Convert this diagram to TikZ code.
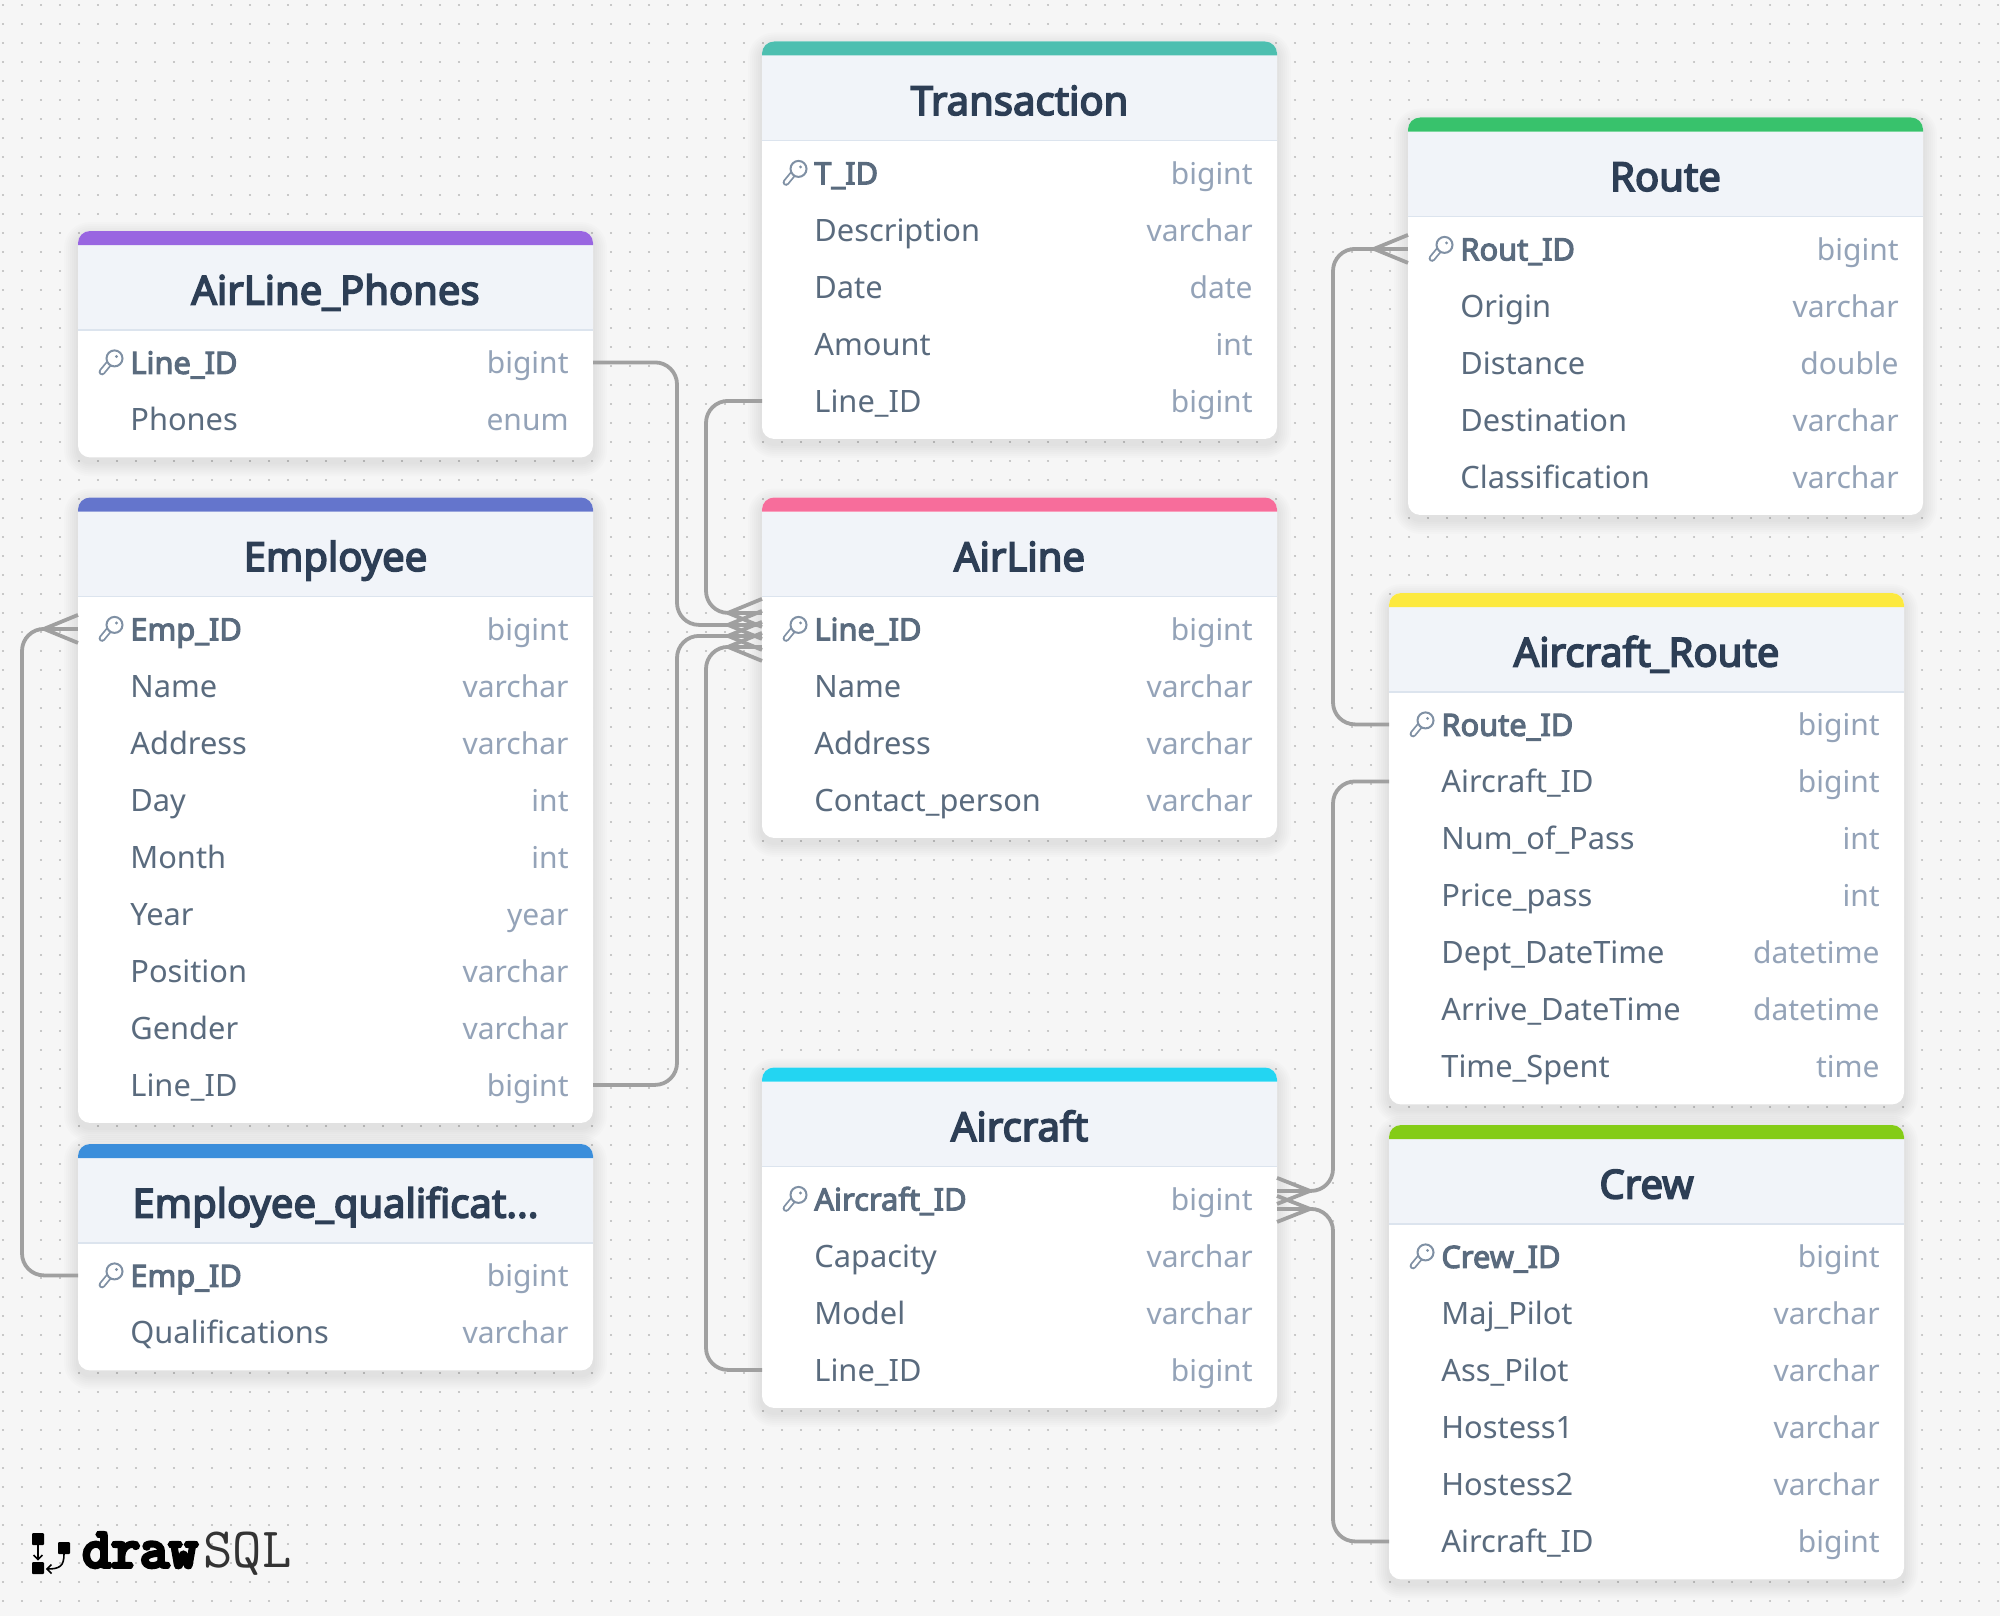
\documentclass[tikz,border=0pt]{standalone}
\usepackage{fontspec}
\setmainfont{Noto Sans}
\newfontfamily\logoheavy[FakeBold=7]{Latin Modern Mono}
\usetikzlibrary{calc}
\definecolor{pagebg}{HTML}{F6F6F6}
\definecolor{dotc}{HTML}{B8B8B8}
\definecolor{headbg}{HTML}{F1F4F9}
\definecolor{headln}{HTML}{DCE4EE}
\definecolor{titlec}{HTML}{2D3E55}
\definecolor{fieldc}{HTML}{5A6B7E}
\definecolor{typec}{HTML}{94A3B8}
\definecolor{keyc}{HTML}{7F90A4}
\definecolor{connc}{HTML}{A0A0A0}
\definecolor{cPhones}{HTML}{9966E1}
\definecolor{cEmp}{HTML}{6475CC}
\definecolor{cQual}{HTML}{3B8EDB}
\definecolor{cTrans}{HTML}{4DBFB0}
\definecolor{cAir}{HTML}{F76D9B}
\definecolor{cCraft}{HTML}{23D5F2}
\definecolor{cRoute}{HTML}{38C26C}
\definecolor{cAR}{HTML}{FCE93F}
\definecolor{cCrew}{HTML}{84CC16}
\tikzset{
  x=0.5pt,y=-0.5pt,
  rowbox/.style={minimum width=257.5pt,minimum height=28.5pt,inner sep=0pt,outer sep=0pt},
  titletext/.style={inner sep=0pt,anchor=base,text=titlec,font=\fontsize{20}{24}\selectfont\addfontfeature{FakeBold=4}},
  fieldtext/.style={inner sep=0pt,anchor=base west,text=fieldc,font=\fontsize{15.4}{18}\selectfont},
  pktext/.style={fieldtext,font=\fontsize{15.4}{18}\selectfont\addfontfeature{FakeBold=3.5}},
  typetext/.style={inner sep=0pt,anchor=base east,text=typec,font=\fontsize{15}{18}\selectfont},
  conn/.style={draw=connc,line width=1.9pt,rounded corners=11pt},
  prong/.style={draw=connc,line width=1.9pt},
  dotrow/.style={draw=dotc,line width=1.1pt,line cap=round,dash pattern=on 0.01pt off 9.49pt},
}
% name, left, top, colour, title, rows
\newcommand{\dbtable}[6]{%
  \pgfmathsetmacro{\tl}{#2}\pgfmathsetmacro{\tr}{#2+515}\pgfmathsetmacro{\tc}{#2+257.5}
  \pgfmathsetmacro{\tt}{#3}
  \foreach \a/\b [count=\n] in {#6}{\xdef\rowcount{\n}}
  \pgfmathsetmacro{\tb}{#3+131.4+(\rowcount-1)*57.0+38}
  \foreach \s in {2,4,...,14}{
    \fill[black,opacity=0.012,rounded corners=6pt+0.5pt*\s]
      (\tl-\s,\tt-\s+5) rectangle (\tr+\s,\tb+\s+5);}
  \fill[white,rounded corners=6pt] (\tl,\tt) rectangle (\tr,\tb);
  \fill[headbg] (\tl,\tt+14) rectangle (\tr,\tt+99);
  \draw[headln,line width=0.6pt] (\tl,\tt+99) -- (\tr,\tt+99);
  \fill[#4,rounded corners=6pt] (\tl,\tt+14) -- (\tl,\tt) -- (\tr,\tt) -- (\tr,\tt+14);
  \node[titletext] (#1-title) at (\tc,\tt+73.5) {#5};
  \foreach \fname/\ftype [count=\i] in {#6}{
    \pgfmathsetmacro{\ry}{#3+131.4+(\i-1)*57.0}
    \node[rowbox] (#1-\i) at (\tc,\ry) {};
    \ifnum\i=1
      \node[pktext] (#1-\i-n) at (\tl+52,\ry+11.5) {\fname};
      \begin{scope}[shift={(\tl,\ry)}]
        \draw[keyc,line width=3.4pt,line cap=round] (31,1) -- (24,9.5);
        \draw[white,line width=1.6pt,line cap=round] (31,1) -- (24,9.5);
        \draw[keyc,fill=white,line width=1pt] (36.5,-4) circle (8);
        \fill[keyc] (38.5,-6) circle (1.6);
      \end{scope}
    \else
      \node[fieldtext] (#1-\i-n) at (\tl+52,\ry+11.5) {\fname};
    \fi
    \node[typetext] (#1-\i-t) at (\tr-24,\ry+11.5) {\ftype};
  }
}
% apex coordinate, target row node
\newcommand{\crowfoot}[2]{%
  \draw[prong] (#1) -- ($(#1 -| #2.west)+(0,-14)$);
  \draw[prong] (#1) -- (#1 -| #2.west);
  \draw[prong] (#1) -- ($(#1 -| #2.west)+(0,14)$);
}
\begin{document}
\begin{tikzpicture}
\useasboundingbox (0,0) rectangle (2000,1616);
\fill[pagebg] (0,0) rectangle (2000,1616);
\foreach \dy in {0,...,85}{
   \draw[dotrow] (3,{4.7+19*\dy}) -- (2000,{4.7+19*\dy});}

\dbtable{phones}{78}{231}{cPhones}{AirLine\_Phones}{Line\_ID/bigint,Phones/enum}
\dbtable{emp}{78}{497.5}{cEmp}{Employee}{Emp\_ID/bigint,Name/varchar,Address/varchar,Day/int,Month/int,Year/year,Position/varchar,Gender/varchar,Line\_ID/bigint}
\dbtable{qual}{78}{1144}{cQual}{Employee\_qualificat...}{Emp\_ID/bigint,Qualifications/varchar}
\dbtable{trans}{762}{41.5}{cTrans}{Transaction}{T\_ID/bigint,Description/varchar,Date/date,Amount/int,Line\_ID/bigint}
\dbtable{air}{762}{497.5}{cAir}{AirLine}{Line\_ID/bigint,Name/varchar,Address/varchar,Contact\_person/varchar}
\dbtable{craft}{762}{1067.5}{cCraft}{Aircraft}{Aircraft\_ID/bigint,Capacity/varchar,Model/varchar,Line\_ID/bigint}
\dbtable{route}{1408}{117.5}{cRoute}{Route}{Rout\_ID/bigint,Origin/varchar,Distance/double,Destination/varchar,Classification/varchar}
\dbtable{ar}{1389}{593}{cAR}{Aircraft\_Route}{Route\_ID/bigint,Aircraft\_ID/bigint,Num\_of\_Pass/int,Price\_pass/int,Dept\_DateTime/datetime,Arrive\_DateTime/datetime,Time\_Spent/time}
\dbtable{crew}{1389}{1125}{cCrew}{Crew}{Crew\_ID/bigint,Maj\_Pilot/varchar,Ass\_Pilot/varchar,Hostess1/varchar,Hostess2/varchar,Aircraft\_ID/bigint}

% lanes
\coordinate (laneA) at (677,0);
\coordinate (laneB) at (706,0);
\coordinate (laneC) at (1333,0);
\coordinate (laneD) at (22,0);
% crow's foot apexes
\coordinate (footB) at ($(air-1.west)+(-34,-16)$);
\coordinate (footA) at ($(air-1.west)+(-34,-4)$);
\coordinate (footC) at ($(air-1.west)+(-34,7)$);
\coordinate (footD) at ($(air-1.west)+(-34,18)$);
\coordinate (footR) at ($(route-1.west)+(-34,0)$);
\coordinate (footE) at ($(emp-1.west)+(-34,0)$);
\coordinate (footF) at ($(craft-1.east)+(33,-8)$);
\coordinate (footG) at ($(craft-1.east)+(33,10)$);

\draw[conn] (phones-1.east) -- (phones-1.east -| laneA) -- (laneA |- footA) -- (footA);
\crowfoot{footA}{air-1}
\draw[conn] (trans-5.west) -- (trans-5.west -| laneB) -- (laneB |- footB) -- (footB);
\crowfoot{footB}{air-1}
\draw[conn] (emp-9.east) -- (emp-9.east -| laneA) -- (laneA |- footC) -- (footC);
\crowfoot{footC}{air-1}
\draw[conn] (craft-4.west) -- (craft-4.west -| laneB) -- (laneB |- footD) -- (footD);
\crowfoot{footD}{air-1}
\draw[conn] (ar-1.west) -- (ar-1.west -| laneC) -- (laneC |- footR) -- (footR);
\crowfoot{footR}{route-1}
\draw[conn] (qual-1.west) -- (qual-1.west -| laneD) -- (laneD |- footE) -- (footE);
\crowfoot{footE}{emp-1}
\draw[conn] (ar-2.west) -- (ar-2.west -| laneC) -- (laneC |- footF) -- (footF);
\draw[prong] (footF) -- ($(footF -| craft-1.east)+(0,-13)$);
\draw[prong] (footF) -- (footF -| craft-1.east);
\draw[prong] (footF) -- ($(footF -| craft-1.east)+(0,13)$);
\draw[conn] (crew-6.west) -- (crew-6.west -| laneC) -- (laneC |- footG) -- (footG);
\draw[prong] (footG) -- ($(footG -| craft-1.east)+(0,-13)$);
\draw[prong] (footG) -- (footG -| craft-1.east);
\draw[prong] (footG) -- ($(footG -| craft-1.east)+(0,13)$);

% logo
\fill[black,rounded corners=0.5pt] (32,1533) rectangle (44,1545);
\fill[black,rounded corners=0.5pt] (32,1562) rectangle (44,1574);
\fill[black,rounded corners=0.5pt] (58,1542) rectangle (70,1554);
\draw[black,line width=0.8pt] (38,1545) -- (38,1559);
\draw[black,line width=0.8pt] (33.5,1555) -- (38,1559.5) -- (42.5,1555);
\draw[black,line width=0.8pt] (64,1554) .. controls (64,1566) and (60,1569) .. (47,1569);
\draw[black,line width=0.8pt] (51.5,1564.5) -- (47,1569) -- (51.5,1573.5);
\node[inner sep=0pt,anchor=base west,text=black,font=\logoheavy\fontsize{28}{30}\selectfont] (logodraw) at (82,1567) {draw};
\node[inner sep=0pt,anchor=base west,text=black!80,font=\fontsize{28.5}{30}\selectfont\ttfamily] (logosql) at (203,1567) {SQL};
\end{tikzpicture}
\end{document}
